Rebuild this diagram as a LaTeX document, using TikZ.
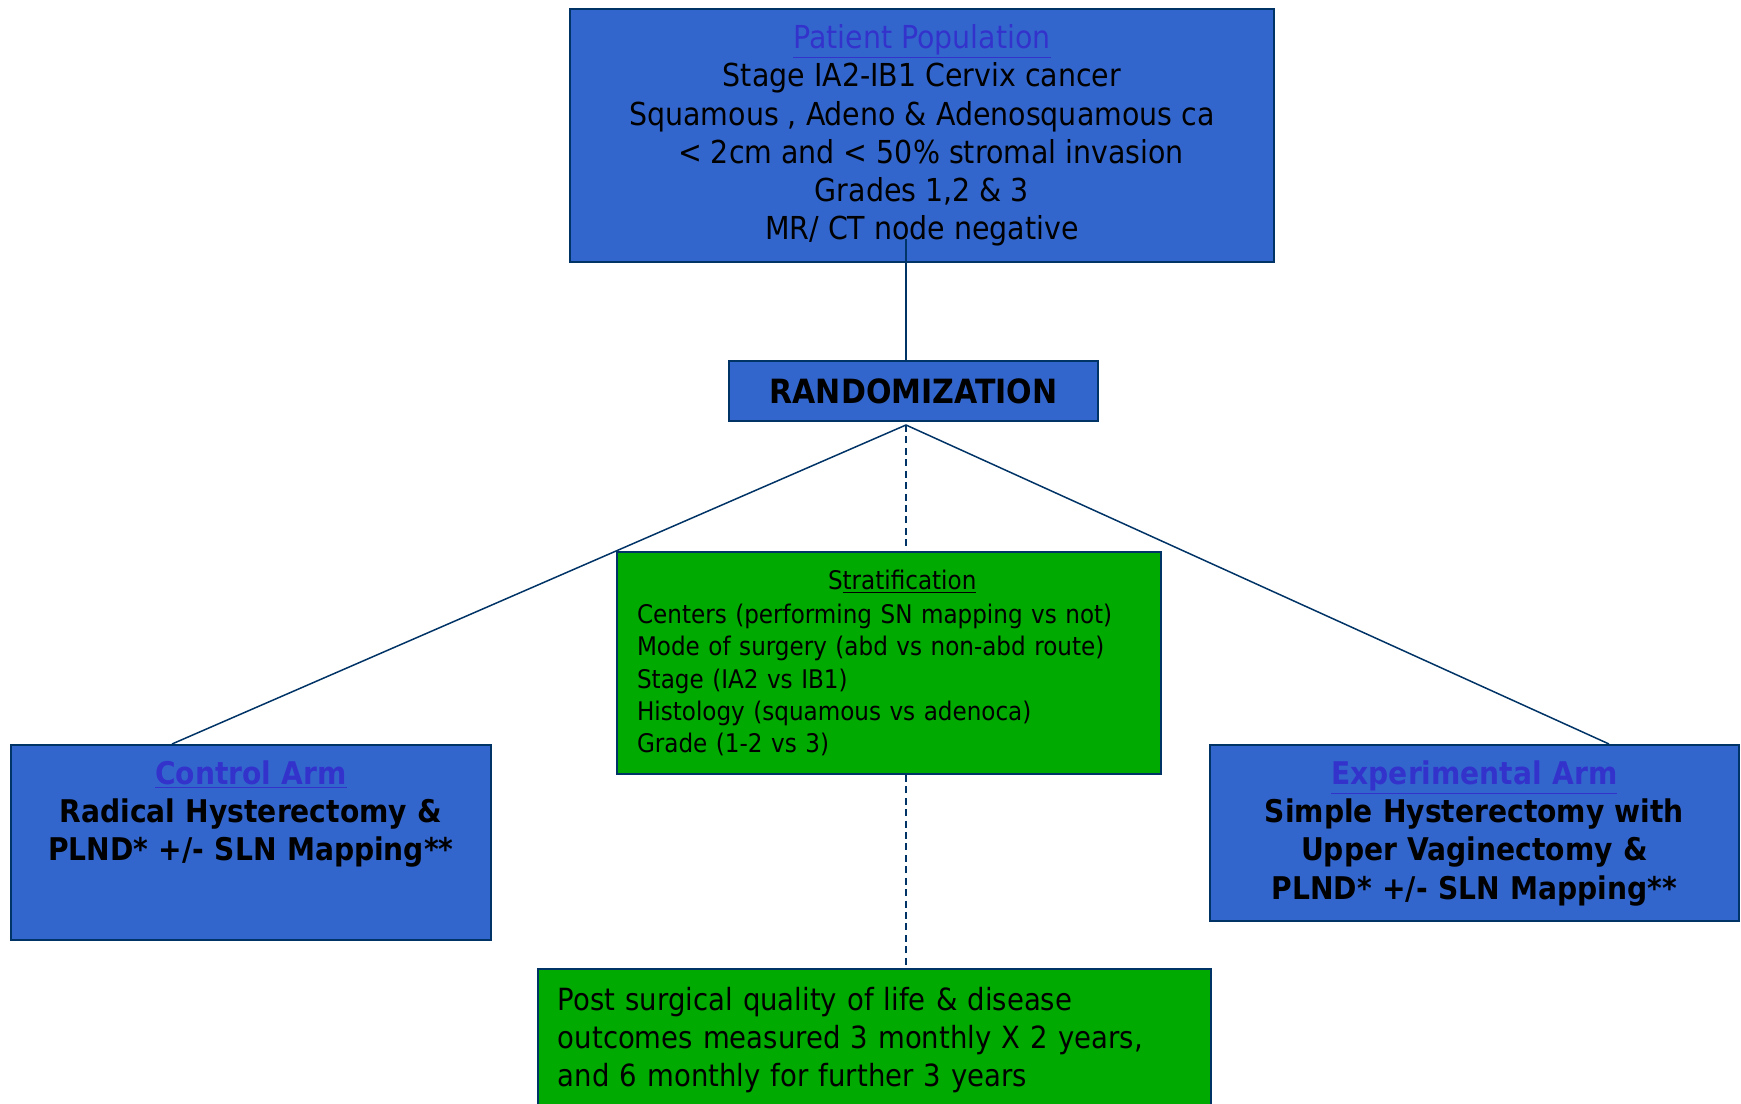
\documentclass[tikz,border=0pt]{standalone}
\usepackage{fontspec}
\setmainfont{DejaVu Sans Condensed}[BoldFont={DejaVu Sans Condensed Bold}]
\usetikzlibrary{calc}
\definecolor{boxblue}{RGB}{51,102,204}
\definecolor{boxedge}{RGB}{0,51,102}
\definecolor{boxgreen}{RGB}{0,170,0}
\definecolor{headcolor}{RGB}{51,51,204}
\newcommand{\boxhead}[1]{\textcolor{headcolor}{\underline{#1}}}
\tikzset{
  bluebox/.style  = {draw=boxedge, fill=boxblue, line width=1.1pt, align=center,
                     inner ysep=0pt, font=\fontsize{18}{21.8}\selectfont},
  armbox/.style   = {bluebox, anchor=north west, inner xsep=0pt, inner ysep=0.31cm,
                     font=\fontsize{17.8}{21.8}\selectfont\bfseries},
  greenbox/.style = {draw=boxedge, fill=boxgreen, line width=1.1pt, align=left,
                     inner xsep=0.4cm},
  link/.style     = {draw=boxedge, line width=0.85pt},
  dashlink/.style = {link, dash pattern=on 4pt off 2.5pt},
}

\begin{document}
\begin{tikzpicture}[x=0.02cm, y=-0.02cm]
  \useasboundingbox (0,0) rectangle (1741,1104);
  \node[bluebox, minimum width=14.08cm, minimum height=5.06cm] (pop) at (922,135.5)
    {\boxhead{Patient Population}\\
     Stage IA2-IB1 Cervix cancer\\
     Squamous , Adeno \& Adenosquamous ca\\
     \ \ < 2cm and < 50\% stromal invasion\\
     Grades 1,2 \& 3\\
     MR/ CT node negative};
  \node[bluebox, minimum width=7.38cm, minimum height=1.2cm,
        font=\fontsize{19}{21.8}\selectfont\bfseries] (rand) at (913.5,391) {RANDOMIZATION};
  \node[greenbox, text width=10.08cm, minimum height=4.44cm,
        font=\fontsize{14.6}{18.3}\selectfont] (strat) at (889,663)
    {\hspace*{3.82cm}S\underline{tratification}\\[1pt]
     Centers (performing SN mapping vs not)\\
     Mode of surgery (abd vs non-abd route)\\
     Stage (IA2 vs IB1)\\
     Histology (squamous vs adenoca)\\
     Grade (1-2 vs 3)};
  \node[armbox, text width=9.6cm] (ctrl) at (10,744)
    {\boxhead{Control Arm}\\
     Radical Hysterectomy \&\\
     PLND* +/- SLN Mapping**\\[0.5cm]\mbox{}};
  \node[armbox, text width=10.58cm] (expt) at (1209,744)
    {\boxhead{Experimental Arm}\\
     Simple Hysterectomy with\\
     Upper Vaginectomy \&\\
     PLND* +/- SLN Mapping**};
  \node[greenbox, anchor=north west, text width=12.66cm, inner ysep=0.36cm,
        font=\fontsize{17.4}{21.8}\selectfont] (outc) at (537,968)
    {Post surgical quality of life \& disease\\
     outcomes measured 3 monthly X 2 years,\\
     and 6 monthly for further 3 years};
  % connectors
  \coordinate (popfoot) at (906,239);
  \coordinate (apex) at (906,425);
  \draw[link] (popfoot) -- (popfoot |- rand.north);
  \draw[link] ($(ctrl.north west)+(162,0)$) -- (apex) -- ($(expt.north west)+(400,0)$);
  \draw[dashlink] (apex) -- (apex |- strat.north);
  \draw[dashlink] (apex |- strat.south) -- (apex |- outc.north);
\end{tikzpicture}
\end{document}
